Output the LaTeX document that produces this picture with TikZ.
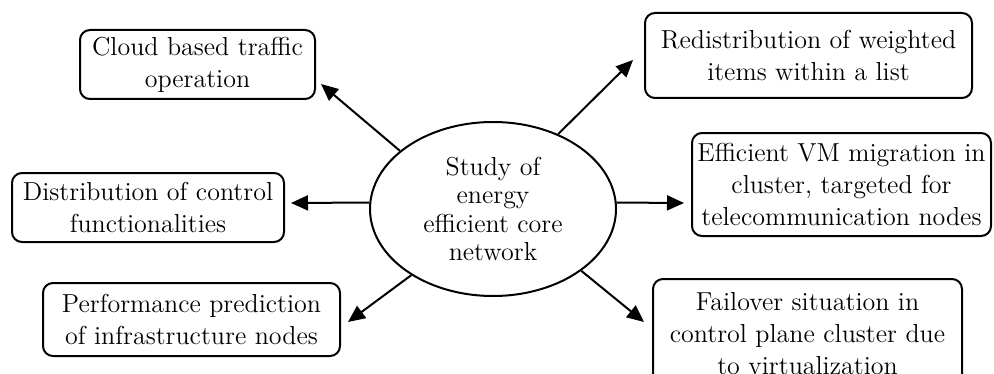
\documentclass[tikz,border=0pt]{standalone}
\usepackage{fontspec}
\usetikzlibrary{shapes.geometric,arrows.meta,calc}
\begin{document}
\begin{tikzpicture}[x=0.5pt,y=-0.5pt,
  every node/.style={font=\fontsize{13}{16}\selectfont},
  topic/.style={draw,line width=1pt,rounded corners=5pt,align=center,inner sep=0pt},
  core/.style={draw,line width=1pt,ellipse,align=center,inner sep=0pt,
    minimum width=123pt,minimum height=87pt,font=\fontsize{13}{14.2}\selectfont},
  arr/.style={line width=1pt,-{Triangle[length=8.5pt,width=7.5pt]}}]
\useasboundingbox (0,0) rectangle (994,374);

% central topic
\node[core] (core) at (493,209) {Study of\\energy\\efficient core\\network};

% surrounding topics
\node[topic,minimum width=117.5pt,minimum height=34.5pt] (cloud) at (197.5,64.5)
  {Cloud based traffic\\operation};
\node[topic,minimum width=163.5pt,minimum height=42.5pt] (redis) at (808.5,55.5)
  {Redistribution of weighted\\items within a list};
\node[topic,minimum width=149.5pt,minimum height=51.5pt] (vm) at (841.5,184.5)
  {Efficient VM migration in\\cluster, targeted for\\telecommunication nodes};
\node[topic,minimum width=136pt,minimum height=34.5pt] (dist) at (148,207.5)
  {Distribution of control\\functionalities};
\node[topic,minimum width=148.5pt,minimum height=36.5pt] (perf) at (191.5,319.5)
  {Performance prediction\\of infrastructure nodes};
\node[topic,minimum width=154.5pt,minimum height=55pt] (fail) at (807.5,334)
  {Failover situation in\\control plane cluster due\\to virtualization};

% arrow tips, just short of each box
\coordinate (tcloud) at ($(cloud.south east)+(5,-16)$);
\coordinate (tredis) at ($(redis.west)+(-11,4.5)$);
\coordinate (tdist)  at ($(dist.east)+(6,-4.5)$);
\coordinate (tvm)    at ($(vm.west)+(-7,18.5)$);
\coordinate (tperf)  at ($(perf.east)+(7,2.5)$);
\coordinate (tfail)  at ($(fail.west)+(-8,-12)$);

% connectors
\draw[arr] (core.148) -- (tcloud);
\draw[arr] (core.49)  -- (tredis);
\draw[arr] (core.177) -- (tdist);
\draw[arr] (core.3)   -- (tvm);
\draw[arr] (core.219) -- (tperf);
\draw[arr] (core.325) -- (tfail);
\end{tikzpicture}
\end{document}
